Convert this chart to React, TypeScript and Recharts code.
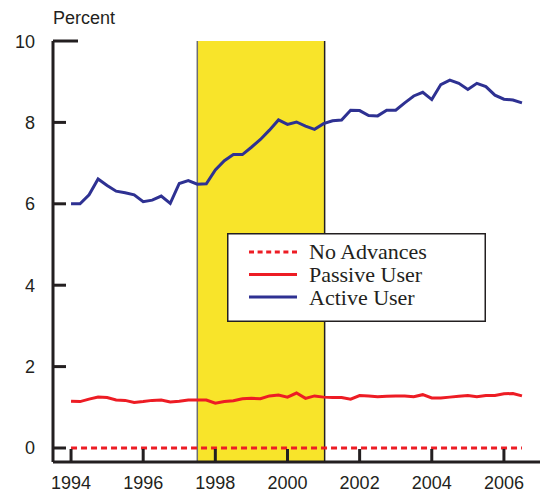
import React from "react";
import { ComposedChart, Line, XAxis, YAxis, ReferenceArea, ReferenceLine, Legend } from "recharts";

const quarters = [
  "1994Q1", "1994Q2", "1994Q3", "1994Q4",
  "1995Q1", "1995Q2", "1995Q3", "1995Q4",
  "1996Q1", "1996Q2", "1996Q3", "1996Q4",
  "1997Q1", "1997Q2", "1997Q3", "1997Q4",
  "1998Q1", "1998Q2", "1998Q3", "1998Q4",
  "1999Q1", "1999Q2", "1999Q3", "1999Q4",
  "2000Q1", "2000Q2", "2000Q3", "2000Q4",
  "2001Q1", "2001Q2", "2001Q3", "2001Q4",
  "2002Q1", "2002Q2", "2002Q3", "2002Q4",
  "2003Q1", "2003Q2", "2003Q3", "2003Q4",
  "2004Q1", "2004Q2", "2004Q3", "2004Q4",
  "2005Q1", "2005Q2", "2005Q3", "2005Q4",
  "2006Q1", "2006Q2", "2006Q3",
];

const activeUser = [
  6.0, 6.0, 6.22, 6.61, 6.45, 6.31, 6.27, 6.22, 6.05, 6.09, 6.19, 6.01,
  6.5, 6.57, 6.48, 6.49, 6.83, 7.06, 7.21, 7.21, 7.39, 7.58, 7.81, 8.06,
  7.95, 8.01, 7.91, 7.83, 7.97, 8.04, 8.06, 8.3, 8.29, 8.17, 8.16, 8.3,
  8.3, 8.48, 8.65, 8.74, 8.56, 8.93, 9.04, 8.96, 8.81, 8.96, 8.88, 8.67,
  8.57, 8.55, 8.48,
];

const passiveUser = [
  1.15, 1.14, 1.2, 1.25, 1.24, 1.18, 1.17, 1.12, 1.14, 1.17, 1.18, 1.13,
  1.15, 1.18, 1.18, 1.18, 1.1, 1.14, 1.16, 1.21, 1.22, 1.21, 1.28, 1.3,
  1.25, 1.35, 1.22, 1.28, 1.25, 1.24, 1.24, 1.2, 1.29, 1.28, 1.26, 1.27,
  1.28, 1.28, 1.26, 1.31, 1.23, 1.23, 1.25, 1.27, 1.29, 1.26, 1.29, 1.29,
  1.33, 1.34, 1.28,
];

const noAdvances = [
  0, 0, 0, 0, 0, 0, 0, 0, 0, 0, 0, 0,
  0, 0, 0, 0, 0, 0, 0, 0, 0, 0, 0, 0,
  0, 0, 0, 0, 0, 0, 0, 0, 0, 0, 0, 0,
  0, 0, 0, 0, 0, 0, 0, 0, 0, 0, 0, 0,
  0, 0, 0,
];

const yearTicks = [1994, 1996, 1998, 2000, 2002, 2004, 2006];
const percentTicks = [0, 2, 4, 6, 8, 10];
const recession = { start: 1997.5, end: 2001.03 };

const data = quarters.map((q, i) => ({
  t: Number(q.slice(0, 4)) + (Number(q.slice(5)) - 1) / 4,
  none: noAdvances[i],
  passive: passiveUser[i],
  active: activeUser[i],
}));

const INK = "#231F20";
const RED = "#ED1C24";
const BLUE = "#2E3192";
const SANS = "'Liberation Sans', Arial, Helvetica, sans-serif";
const SERIF = "'Liberation Serif', 'Times New Roman', serif";

const LeftTick = (props: any) => {
  const { x, y, payload } = props;
  const len = payload.value === 10 ? 25 : 13;
  return (
    <g>
      <line x1={x} x2={x + len} y1={y} y2={y} stroke={INK} strokeWidth={3} />
      <text x={x - 18} y={y + 6.5} textAnchor="end" fontSize={18} fontFamily={SANS} fill={INK}>
        {payload.value}
      </text>
    </g>
  );
};

const RightTick = (props: any) => {
  const { x, y, payload } = props;
  const len = payload.value === 10 ? 23 : 10;
  return <line x1={x - len} x2={x} y1={y} y2={y} stroke={INK} strokeWidth={3} />;
};

const BottomTick = (props: any) => {
  const { x, y, payload } = props;
  return (
    <g>
      <line x1={x} x2={x} y1={y} y2={y - 13} stroke={INK} strokeWidth={3} />
      <text x={x} y={y + 27} textAnchor="middle" fontSize={18} fontFamily={SANS} fill={INK}>
        {payload.value}
      </text>
    </g>
  );
};

const legendItems = [
  { label: "No Advances", color: RED, dashed: true },
  { label: "Passive User", color: RED, dashed: false },
  { label: "Active User", color: BLUE, dashed: false },
];

const LegendBox = () => (
  <svg width={259} height={89} style={{ display: "block" }}>
    <rect x={0.75} y={0.75} width={257.5} height={87.5} fill="#fff" stroke={INK} strokeWidth={1.5} />
    {legendItems.map((it, i) => (
      <g key={it.label}>
        <line
          x1={22}
          x2={70}
          y1={19 + i * 22.5}
          y2={19 + i * 22.5}
          stroke={it.color}
          strokeWidth={3}
          strokeDasharray={it.dashed ? "5 3.6" : undefined}
        />
        <text x={82} y={26 + i * 23} fontFamily={SERIF} fontSize={22} fill={INK}>
          {it.label}
        </text>
      </g>
    ))}
  </svg>
);

export default function App() {
  return (
    <div style={{ position: "absolute", left: 0, top: 0, width: 540, height: 493, background: "#fff" }}>
      <div
        style={{
          position: "absolute",
          left: 53,
          top: 5,
          fontFamily: SANS,
          fontSize: 18,
          color: INK,
          lineHeight: "26px",
        }}
      >
        Percent
      </div>
      <ComposedChart width={540} height={493} data={data} margin={{ top: 41, right: 0, bottom: 0, left: 0 }}>
        <XAxis
          dataKey="t"
          type="number"
          domain={[1993.5, 2007]}
          ticks={yearTicks}
          allowDataOverflow
          height={31}
          tickSize={0}
          tickMargin={0}
          tickLine={false}
          axisLine={{ stroke: INK, strokeWidth: 3 }}
          tick={<BottomTick />}
        />
        <YAxis
          yAxisId="left"
          type="number"
          domain={[-0.344, 10]}
          ticks={percentTicks}
          allowDataOverflow
          width={53}
          tickSize={0}
          tickMargin={0}
          tickLine={false}
          axisLine={{ stroke: INK, strokeWidth: 3 }}
          tick={<LeftTick />}
        />
        <YAxis
          yAxisId="right"
          orientation="right"
          type="number"
          domain={[-0.344, 10]}
          ticks={percentTicks}
          allowDataOverflow
          width={0}
          tickSize={0}
          tickMargin={0}
          tickLine={false}
          axisLine={false}
          tick={<RightTick />}
        />
        <ReferenceArea
          yAxisId="left"
          x1={recession.start}
          x2={recession.end}
          fill="#F8E42A"
          fillOpacity={1}
          stroke="none"
        />
        <ReferenceLine yAxisId="left" x={recession.start} stroke="#6D6E71" strokeWidth={1.5} />
        <ReferenceLine yAxisId="left" x={recession.end} stroke={INK} strokeWidth={1.5} />
        <Line
          yAxisId="left"
          dataKey="none"
          name="No Advances"
          stroke={RED}
          strokeWidth={3}
          strokeDasharray="6 4"
          dot={false}
          isAnimationActive={false}
        />
        <Line
          yAxisId="left"
          dataKey="passive"
          name="Passive User"
          stroke={RED}
          strokeWidth={3}
          dot={false}
          isAnimationActive={false}
        />
        <Line
          yAxisId="left"
          dataKey="active"
          name="Active User"
          stroke={BLUE}
          strokeWidth={3}
          dot={false}
          isAnimationActive={false}
        />
        <Legend
          layout="horizontal"
          align="center"
          verticalAlign="middle"
          content={<LegendBox />}
          wrapperStyle={{ position: "absolute", left: 227, top: 233, width: 259, height: 89 }}
        />
      </ComposedChart>
    </div>
  );
}
